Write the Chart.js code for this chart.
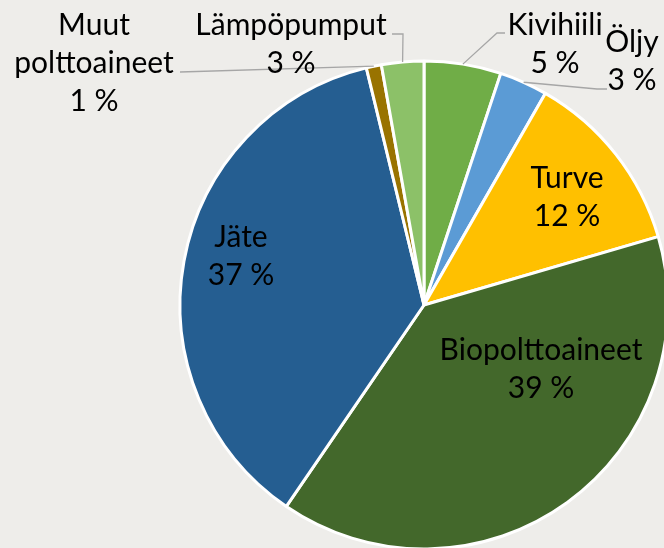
<!DOCTYPE html>
<html>
<head>
<meta charset="utf-8">
<script src="https://cdn.jsdelivr.net/npm/chart.js@4"></script>
<style>
  html, body { margin: 0; padding: 0; background: #EEEDEA; overflow: hidden; }
  #wrap { width: 664px; height: 548px; position: relative; }
</style>
</head>
<body>
<div id="wrap"><canvas id="c" width="664" height="548"></canvas></div>
<script>
// ---- Data ----
const categories = ['Kivihiili', 'Öljy', 'Turve', 'Biopolttoaineet', 'Jäte', 'Muut polttoaineet', 'Lämpöpumput'];
const shares = [5.1, 3.2, 12.2, 39.1, 36.7, 1.0, 2.8];
const colors = ['#70AD47', '#5B9BD5', '#FFC000', '#43682B', '#255E91', '#997300', '#8CC168'];

// ---- Label layout (relative to pie centre, px) ----
const labelLines = [
  ['Kivihiili'], ['Öljy'], ['Turve'], ['Biopolttoaineet'], ['Jäte'], ['Muut', 'polttoaineet'], ['Lämpöpumput']
];
const labelAnchor = [
  [131, -270], [208, -253], [143, -117], [117, 55], [-183, -58], [-330, -270], [-133, -270]
];
// leader line waypoints after the slice edge point (relative to centre)
const leaders = [
  [[73, -272], [81, -272]],
  [[173, -216], [183, -216]],
  null, null, null,
  [[-244, -233]],
  [[-21, -271], [-32, -271]]
];

const FONT = '30px Lato';
const LINE_H = 38;

const labelPlugin = {
  id: 'labels',
  afterDatasetsDraw(chart) {
    const ctx = chart.ctx;
    const meta = chart.getDatasetMeta(0);
    const total = shares.reduce((a, b) => a + b, 0);
    ctx.save();
    meta.data.forEach((arc, i) => {
      const cx = arc.x, cy = arc.y;
      if (leaders[i]) {
        const mid = (arc.startAngle + arc.endAngle) / 2;
        ctx.beginPath();
        ctx.strokeStyle = '#A6A6A6';
        ctx.lineWidth = 1.3;
        ctx.moveTo(cx + Math.cos(mid) * arc.outerRadius, cy + Math.sin(mid) * arc.outerRadius);
        leaders[i].forEach(p => ctx.lineTo(cx + p[0], cy + p[1]));
        ctx.stroke();
      }
      const lines = labelLines[i].concat([Math.round(shares[i] / total * 100) + ' %']);
      ctx.fillStyle = '#000000';
      ctx.font = FONT;
      ctx.textAlign = 'center';
      ctx.textBaseline = 'alphabetic';
      lines.forEach((t, k) => {
        ctx.fillText(t, cx + labelAnchor[i][0], cy + labelAnchor[i][1] + k * LINE_H);
      });
    });
    ctx.restore();
  }
};

new Chart(document.getElementById('c'), {
  type: 'pie',
  data: {
    labels: categories,
    datasets: [{
      data: shares,
      backgroundColor: colors,
      borderColor: '#FFFFFF',
      borderWidth: 3
    }]
  },
  options: {
    responsive: false,
    animation: false,
    radius: 244,
    layout: { padding: { left: 184, top: 62, right: 0, bottom: 0 } },
    plugins: { legend: { display: false }, tooltip: { enabled: false } }
  },
  plugins: [labelPlugin]
});
</script>
</body>
</html>
